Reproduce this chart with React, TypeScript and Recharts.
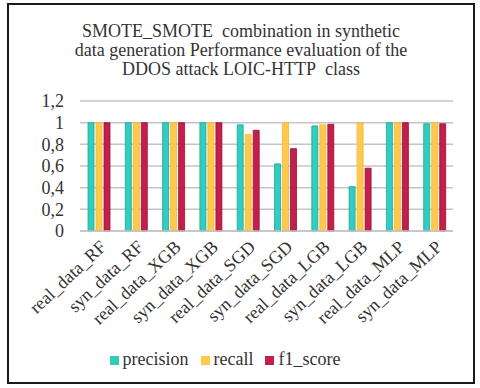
import { BarChart, Bar, XAxis, YAxis, CartesianGrid, Legend } from 'recharts'

const categories = [
  'real_data_RF', 'syn_data_RF', 'real_data_XGB', 'syn_data_XGB', 'real_data_SGD',
  'syn_data_SGD', 'real_data_LGB', 'syn_data_LGB', 'real_data_MLP', 'syn_data_MLP',
]
const precision = [1, 1, 1, 1, 0.98, 0.62, 0.97, 0.41, 1, 0.99]
const recall = [1, 1, 1, 1, 0.89, 1, 0.98, 1, 1, 1]
const f1Score = [1, 1, 1, 1, 0.93, 0.76, 0.985, 0.58, 1, 0.99]
const yTicks = [0, 0.2, 0.4, 0.6, 0.8, 1, 1.2]
const seriesOrder = ['precision', 'recall', 'f1_score']

const data = categories.map((name, i) => ({
  name,
  precision: precision[i],
  recall: recall[i],
  f1_score: f1Score[i],
}))

const FONT = 'Times New Roman, Liberation Serif, DejaVu Serif, serif'

const App = () => {
  return (
    <div
      style={{
        position: 'absolute',
        left: 7,
        top: 3,
        width: 468,
        height: 381,
        border: '2px solid #1a1a1a',
        boxSizing: 'border-box',
        background: '#fff',
        fontFamily: FONT,
      }}
    >
      <div
        style={{
          position: 'absolute',
          top: 17,
          left: 0,
          width: 464,
          textAlign: 'center',
          fontSize: 18,
          lineHeight: '19px',
          color: '#333',
        }}
      >
        SMOTE_SMOTE&nbsp; combination in synthetic
        <br />
        data generation Performance evaluation of the
        <br />
        DDOS attack LOIC-HTTP&nbsp; class
      </div>
      <BarChart
        width={464}
        height={377}
        data={data}
        margin={{ top: 96, right: 20, left: 0, bottom: 12 }}
        barSize={6}
        barGap={2}
      >
        <CartesianGrid vertical={false} stroke="#c4c4c4" strokeWidth={1.5} />
        <XAxis
          dataKey="name"
          interval={0}
          axisLine={{ stroke: '#c4c4c4', strokeWidth: 1.5 }}
          tickLine={false}
          height={118}
          tick={{ fill: '#333', fontSize: 18, fontFamily: FONT, angle: -43, textAnchor: 'end', dy: 0 } as any}
        />
        <YAxis
          domain={[0, 1.2]}
          ticks={yTicks}
          interval={0}
          width={71}
          axisLine={false}
          tickLine={false}
          tickMargin={10}
          tickFormatter={(v) => String(v).replace('.', ',')}
          tick={{ fill: '#333', fontSize: 18, fontFamily: FONT }}
        />
        <Legend
          verticalAlign="bottom"
          iconType="square"
          iconSize={9}
          itemSorter={(item: any) => seriesOrder.indexOf(item.dataKey)}
          wrapperStyle={{ fontSize: 18, fontFamily: FONT }}
          formatter={(value) => <span style={{ color: '#333', marginRight: 2 }}>{value}</span>}
        />
        <Bar dataKey="precision" fill="#33CCBF" stroke="#1aa89b" strokeWidth={0.8} isAnimationActive={false} />
        <Bar dataKey="recall" fill="#FFC94D" stroke="#f2b830" strokeWidth={0.8} isAnimationActive={false} />
        <Bar dataKey="f1_score" fill="#C41E4A" stroke="#9a0f35" strokeWidth={0.8} isAnimationActive={false} />
      </BarChart>
    </div>
  )
}

export default App
